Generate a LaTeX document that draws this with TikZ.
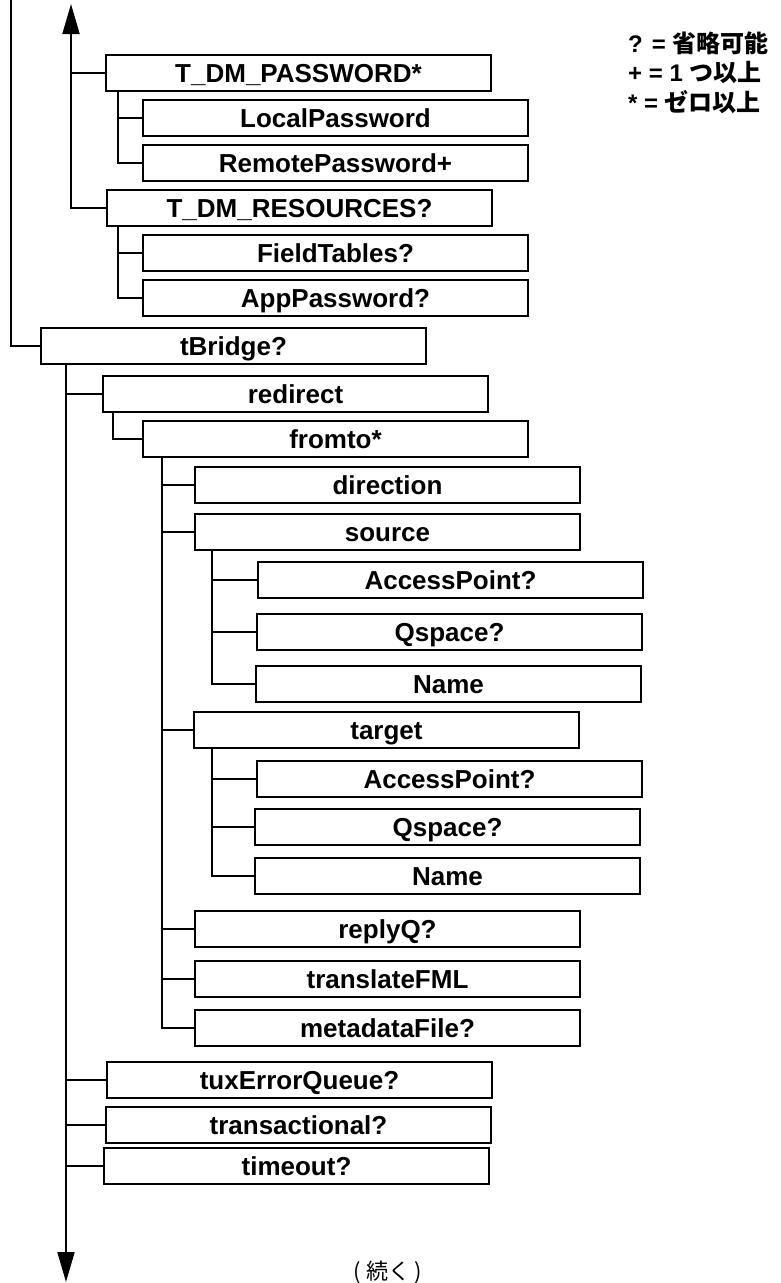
\documentclass[tikz,border=0pt]{standalone}
\usepackage{fontspec}
\setmainfont{Liberation Sans}
\newfontfamily\jp{Noto Sans CJK JP}
\usetikzlibrary{arrows.meta}

\begin{document}
\begin{tikzpicture}[x=1pt,y=-1pt,
  elem/.style={draw,line width=2pt,anchor=west,minimum width=385pt,minimum height=36pt,
    inner sep=0pt,text height=18.7pt,text depth=0pt,font=\fontsize{26}{29}\selectfont\bfseries},
  link/.style={line width=2pt},
  tip/.style={-{Triangle[width=17pt,length=30pt]}},
  legend/.style={anchor=west,inner sep=0pt,font=\fontsize{24}{28}\selectfont\bfseries}]
\useasboundingbox (0,0) rectangle (780,1283);

% legend
\node [legend] (qmark) at (628,43) {? = {\jp 省略可能}};
\node [legend] (plus) at (628,73) {+ = 1 {\jp つ以上}};
\node [legend] (star) at (628,102) {* = {\jp ゼロ以上}};

% upper part
\node [elem] (pw) at (105,73) {T\_DM\_PASSWORD*};
\node [elem] (lp) at (142,118) {LocalPassword};
\node [elem] (rp) at (142,163) {RemotePassword+};
\node [elem] (res) at (106,208) {T\_DM\_RESOURCES?};
\node [elem] (ftab) at (142,253) {FieldTables?};
\node [elem] (app) at (142,298) {AppPassword?};

% tBridge
\node [elem] (tb) at (40,346) {tBridge?};
\node [elem] (rd) at (102,394) {redirect};
\node [elem] (ft) at (142,439) {fromto*};
\node [elem] (dir) at (194,485) {direction};
\node [elem] (src) at (194,532) {source};
\node [elem] (ap1) at (257,580) {AccessPoint?};
\node [elem] (qs1) at (256,632) {Qspace?};
\node [elem] (nm1) at (255,684) {Name};
\node [elem] (tgt) at (193,730) {target};
\node [elem] (ap2) at (256,779) {AccessPoint?};
\node [elem] (qs2) at (254,827) {Qspace?};
\node [elem] (nm2) at (254,876) {Name};
\node [elem] (rq) at (194,929) {replyQ?};
\node [elem] (tf) at (194,979) {translateFML};
\node [elem] (md) at (194,1028) {metadataFile?};
\node [elem] (tux) at (106,1080) {tuxErrorQueue?};
\node [elem] (tr) at (105,1125) {transactional?};
\node [elem] (to) at (103,1166) {timeout?};

\node [anchor=center,inner sep=0pt,font=\fontsize{22}{26}\selectfont\jp] (cont) at (388,1272) {( 続く )};

% trunks
\coordinate (edge) at (11,0);
\coordinate (uptip) at (71,4);
\coordinate (downtip) at (66,1282);
\draw [link] (edge) |- (tb.west);
\draw [link,tip] (res.west) -| (uptip);
\draw [link] (pw.west) -- (pw.west -| uptip);
\draw [link] ([xshift=13pt]pw.south west) |- (lp.west);
\draw [link] ([xshift=13pt]pw.south west) |- (rp.west);
\draw [link] ([xshift=12pt]res.south west) |- (ftab.west);
\draw [link] ([xshift=12pt]res.south west) |- (app.west);

\draw [link,tip] (tb.south west -| downtip) -- (downtip);
\foreach \n in {rd,tux,tr,to}
  \draw [link] (\n.west) -- (\n.west -| downtip);
\draw [link] ([xshift=11pt]rd.south west) |- (ft.west);
\foreach \n in {dir,src,tgt,rq,tf,md}
  \draw [link] ([xshift=20pt]ft.south west) |- (\n.west);
\foreach \n in {ap1,qs1,nm1}
  \draw [link] ([xshift=18pt]src.south west) |- (\n.west);
\foreach \n in {ap2,qs2,nm2}
  \draw [link] ([xshift=19pt]tgt.south west) |- (\n.west);
\end{tikzpicture}
\end{document}
